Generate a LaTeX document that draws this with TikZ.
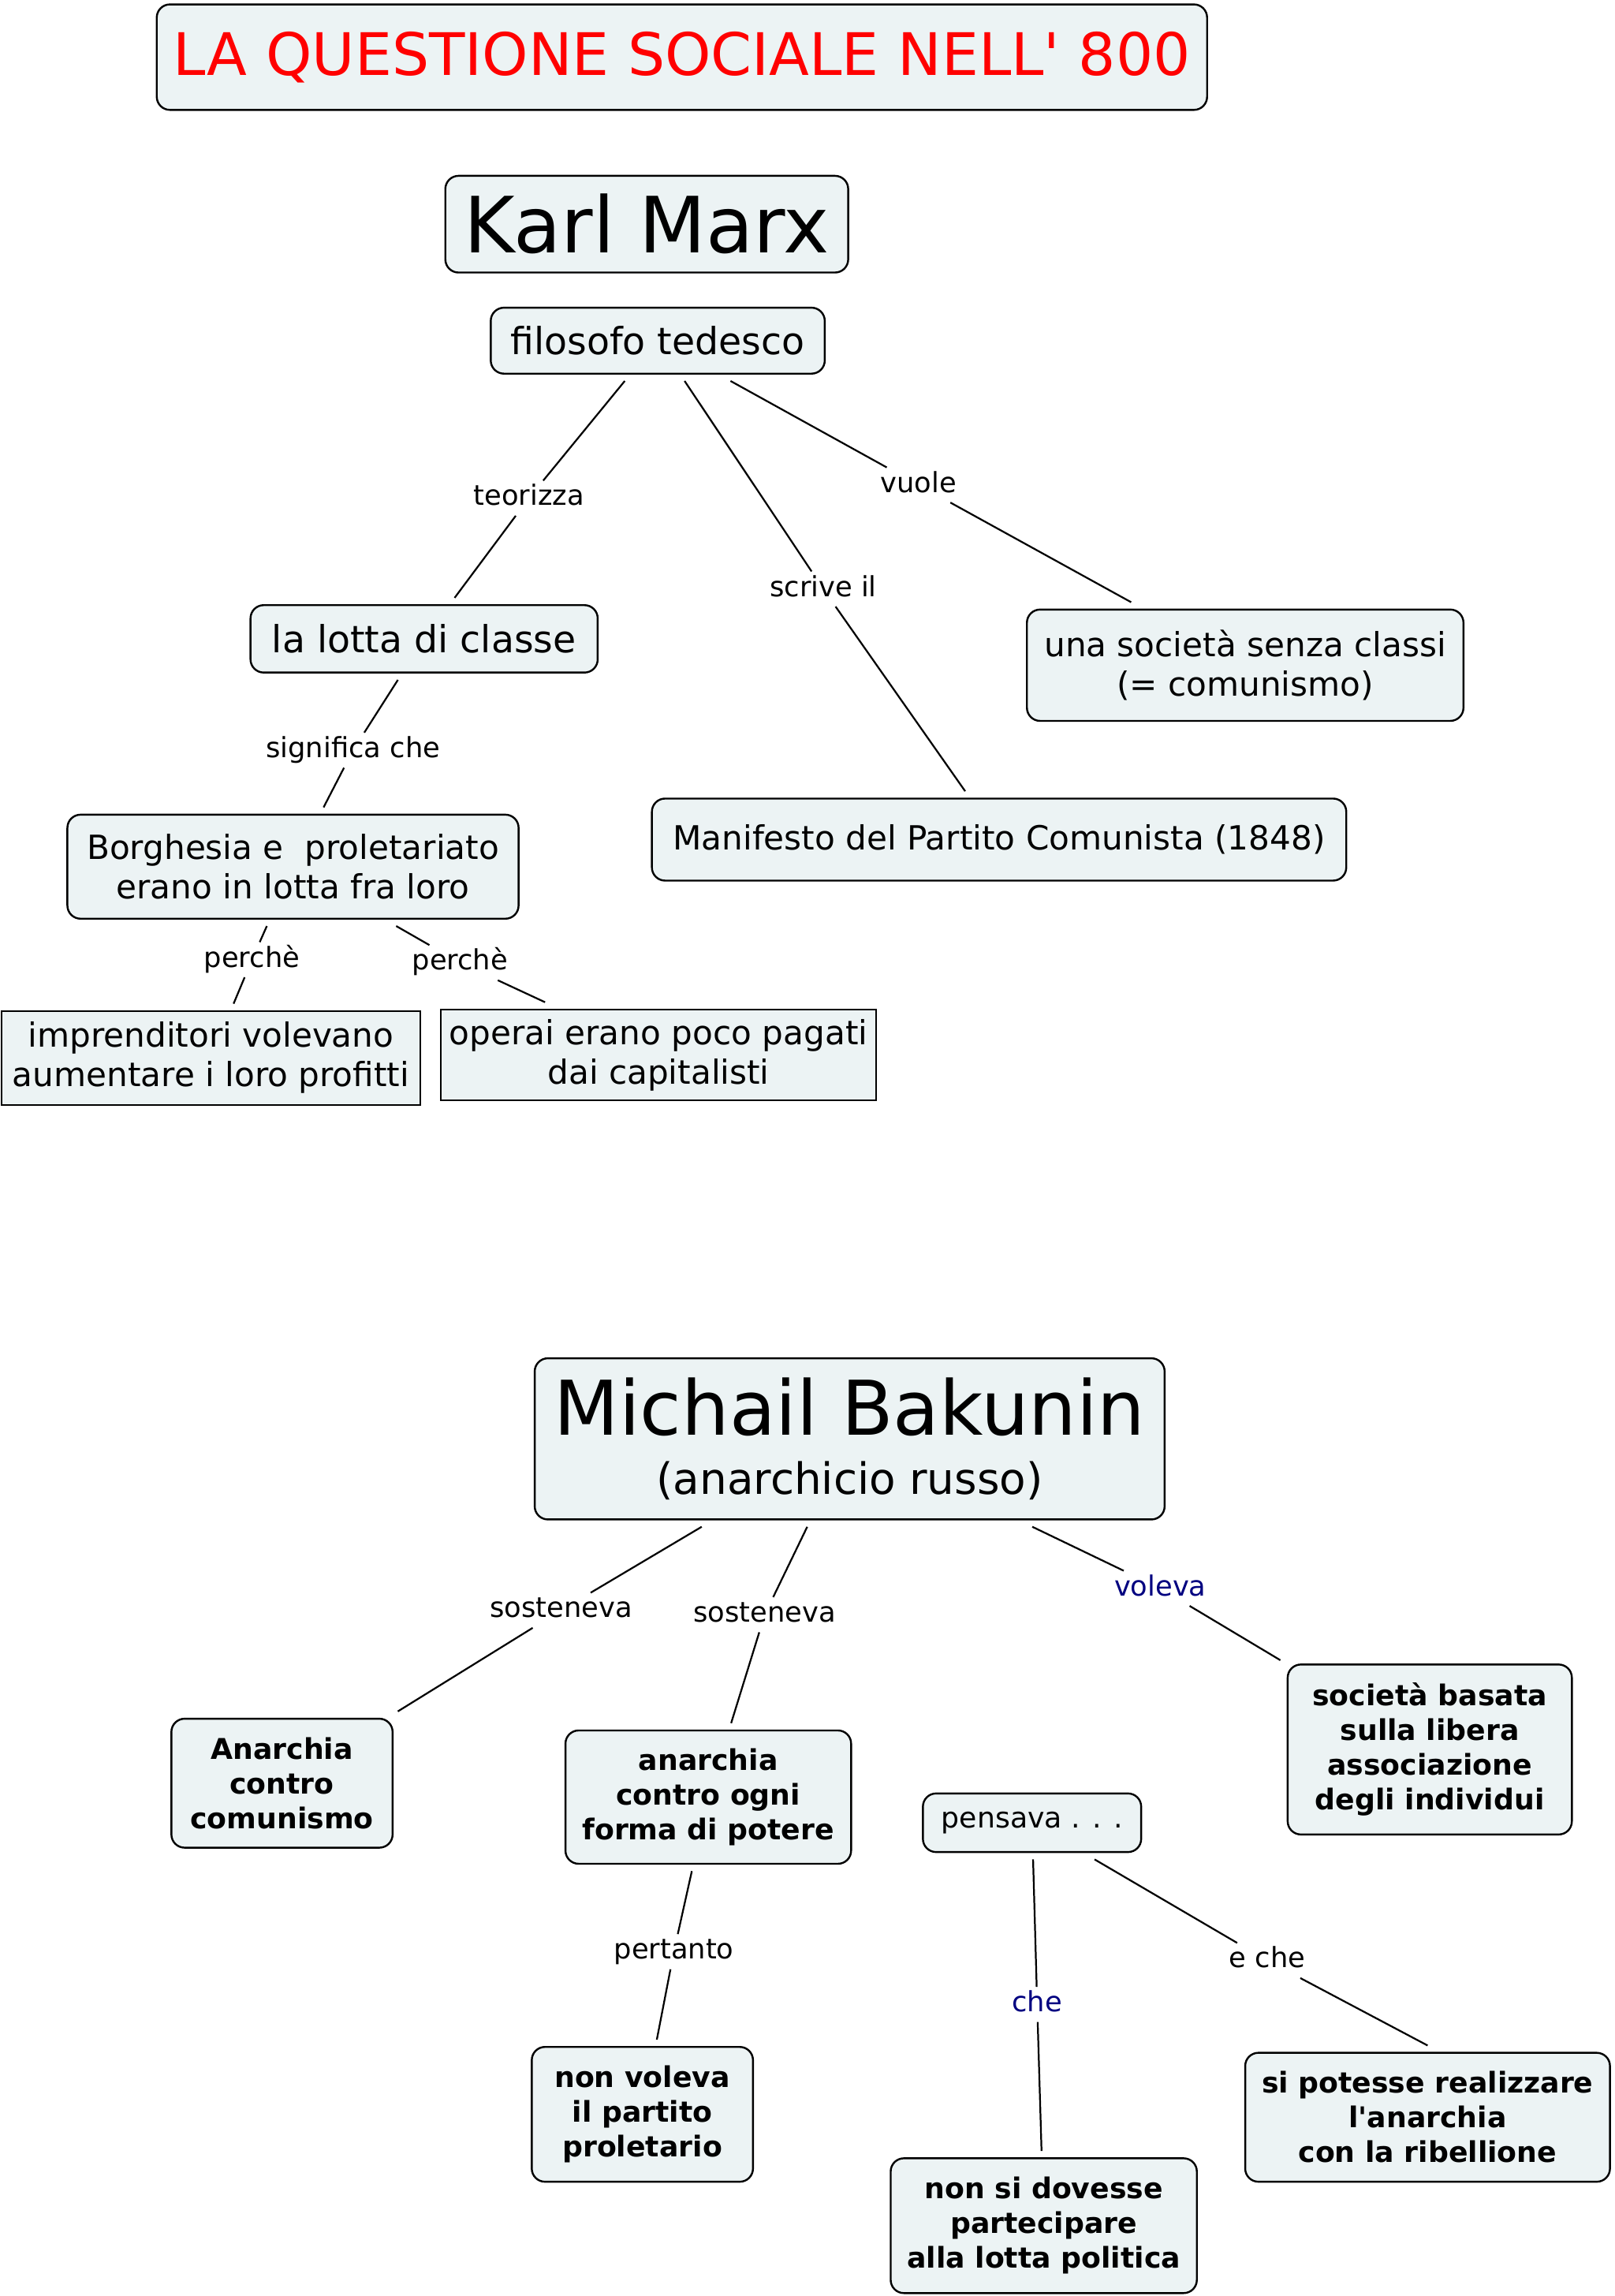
\documentclass[tikz,border=0pt]{standalone}
\usepackage{fontspec}
\setmainfont{DejaVu Sans}[Ligatures=TeXOff]
\definecolor{boxfill}{RGB}{236,243,244}
\definecolor{navy}{RGB}{0,0,128}

\begin{document}
\begin{tikzpicture}[x=1pt,y=-1pt,
    box/.style={draw,fill=boxfill,line width=1.3pt,rounded corners=9pt,align=center,inner sep=0pt,outer sep=5pt},
    sqbox/.style={box,sharp corners},
    big/.style={font=\fontsize{25.5}{27}\selectfont},
    mid/.style={font=\fontsize{22.7}{27}\selectfont},
    heavy/.style={font=\fontsize{19.5}{23.7}\selectfont\bfseries},
    lab/.style={fill=white,inner sep=2pt,outer sep=1pt,font=\fontsize{19}{19}\selectfont,text height=14pt,text depth=4pt},
    link/.style={line width=1.2pt}]
    \useasboundingbox (0,0) rectangle (1102,1567);

    % Marx
    \node[box,minimum width=717,minimum height=72,text=red,font=\fontsize{40}{40}\selectfont] (title) at (465.5,39) {LA QUESTIONE SOCIALE NELL' 800};
    \node[box,minimum width=275,minimum height=66,font=\fontsize{53}{53}\selectfont] (marx) at (441.5,153) {Karl Marx};
    \node[box,big,minimum width=228,minimum height=45] (filo) at (449,232.5) {filosofo tedesco};
    \node[box,big,minimum width=237,minimum height=46] (lotta) at (289.5,436) {la lotta di classe};
    \node[box,mid,minimum width=298,minimum height=76] (classi) at (850,454) {una società senza classi\\(= comunismo)};
    \node[box,mid,minimum width=474,minimum height=56] (manif) at (682,573) {Manifesto del Partito Comunista (1848)};
    \node[box,mid,minimum width=308,minimum height=71] (borgh) at (200,591.5) {Borghesia e~ proletariato\\erano in lotta fra loro};
    \node[sqbox,mid,minimum width=286,minimum height=64] (impr) at (144,722) {imprenditori volevano\\aumentare i loro profitti};
    \node[sqbox,mid,minimum width=297,minimum height=62] (operai) at (449.5,720) {operai erano poco pagati\\dai capitalisti};

    \node[lab] (teor) at (361,340) {teorizza};
    \node[lab] (scrive) at (562,402) {scrive il};
    \node[lab] (vuole) at (627,331) {vuole};
    \node[lab] (signif) at (241,512) {significa che};
    \node[lab] (perche1) at (172,655) {perchè};
    \node[lab] (perche2) at (314,657) {perchè};

    \draw[link] (filo) -- (teor) -- (lotta);
    \draw[link] (filo) -- (scrive) -- (manif);
    \draw[link] (filo) -- (vuole) -- (classi);
    \draw[link] (lotta) -- (signif) -- (borgh);
    \draw[link] (borgh) -- (perche1) -- (impr);
    \draw[link] (borgh) -- (perche2) -- (operai);

    % Bakunin
    \node[box,minimum width=430,minimum height=110,font=\fontsize{29.5}{40}\selectfont] (bak) at (580,982) {{\fontsize{51.5}{51.5}\selectfont Michail Bakunin}\\(anarchicio russo)};
    \node[box,heavy,minimum width=151,minimum height=88] (anarc) at (192.5,1217) {Anarchia\\contro\\comunismo};
    \node[box,heavy,minimum width=195,minimum height=91] (potere) at (483.5,1226.5) {anarchia\\contro ogni\\forma di potere};
    \node[box,minimum width=149,minimum height=40,font=\fontsize{19.5}{19.5}\selectfont] (pensa) at (704.5,1244) {pensava . . .};
    \node[box,heavy,minimum width=194,minimum height=116] (libera) at (976,1194) {società basata\\sulla libera\\associazione\\degli individui};
    \node[box,heavy,minimum width=151,minimum height=92] (partito) at (438.5,1443) {non voleva\\il partito\\proletario};
    \node[box,heavy,minimum width=209,minimum height=92] (politica) at (712.5,1519) {non si dovesse\\partecipare\\alla lotta politica};
    \node[box,heavy,minimum width=249,minimum height=88] (ribel) at (974.5,1445) {si potesse realizzare\\l'anarchia\\con la ribellione};

    \node[lab] (sost1) at (383,1099) {sosteneva};
    \node[lab] (sost2) at (522,1102) {sosteneva};
    \node[lab,text=navy] (voleva) at (792,1084) {voleva};
    \node[lab] (pert) at (460,1332) {pertanto};
    \node[lab,text=navy] (che) at (708,1368) {che};
    \node[lab] (eche) at (865,1338) {e che};

    \draw[link] (bak) -- (sost1) -- (anarc);
    \draw[link] (bak) -- (sost2) -- (potere);
    \draw[link] (bak) -- (voleva) -- (libera);
    \draw[link] (potere) -- (pert) -- (partito);
    \draw[link] (pensa) -- (che) -- (politica);
    \draw[link] (pensa) -- (eche) -- (ribel.north);
\end{tikzpicture}
\end{document}
